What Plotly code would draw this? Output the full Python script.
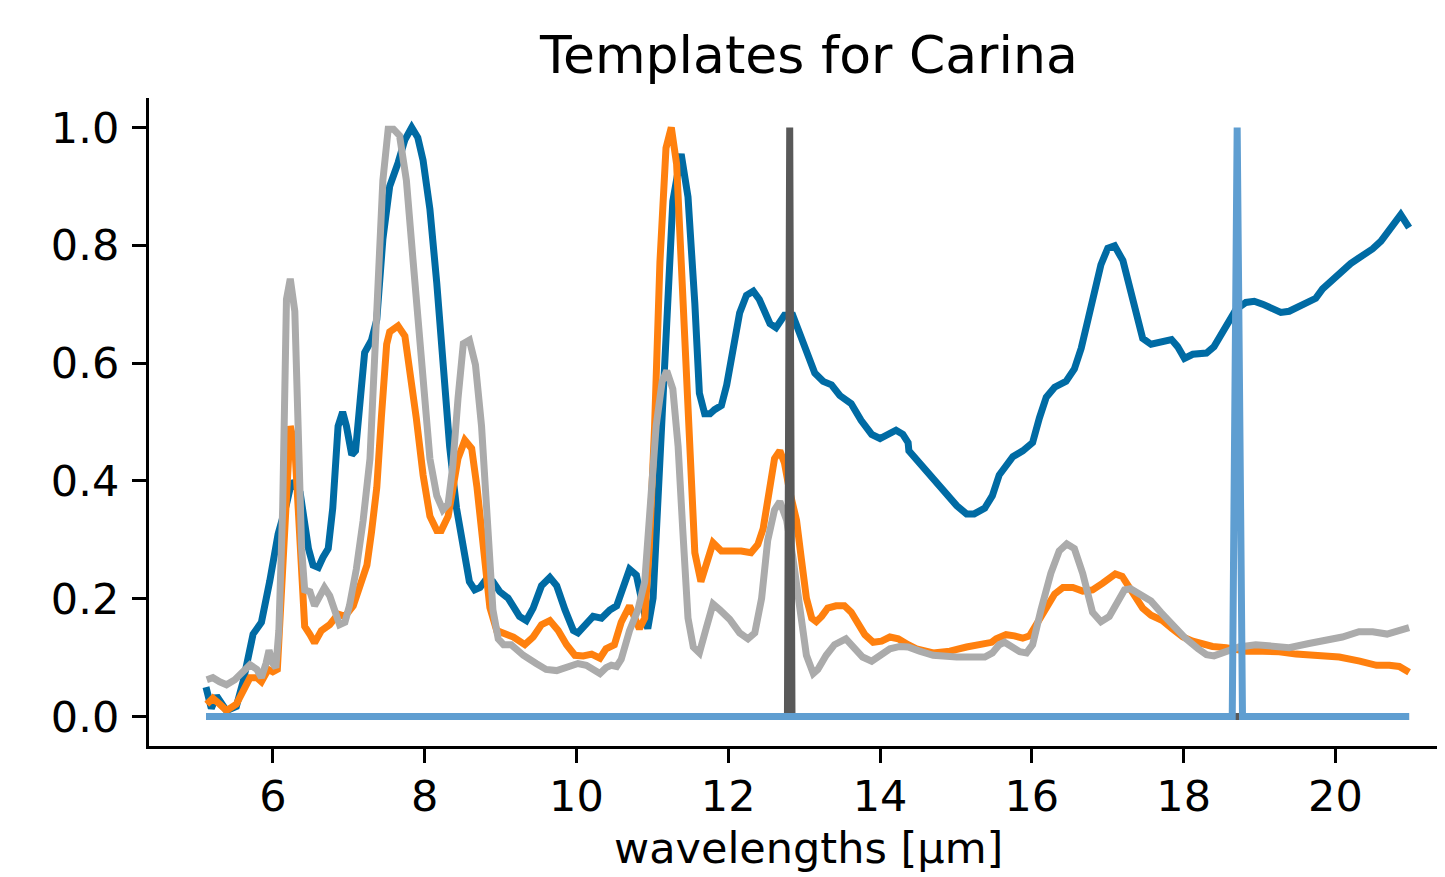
import plotly.graph_objects as go

# ---- data ----
blue_w = [5.12, 5.19, 5.26, 5.39, 5.52, 5.61, 5.74, 5.85, 5.96, 6.07, 6.18, 6.25, 6.36, 6.47, 6.53, 6.60,
          6.66, 6.73, 6.79, 6.86, 6.92, 6.97, 7.04, 7.09, 7.15, 7.21, 7.30, 7.37, 7.45, 7.54, 7.65, 7.74,
          7.83, 7.91, 7.98, 8.07, 8.16, 8.24, 8.33, 8.42, 8.51, 8.59, 8.66, 8.73, 8.81, 8.90, 8.99, 9.10,
          9.25, 9.34, 9.43, 9.54, 9.65, 9.74, 9.85, 9.96, 10.02, 10.11, 10.22, 10.33, 10.44, 10.53, 10.59,
          10.70, 10.79, 10.86, 10.94, 11.01, 11.10, 11.19, 11.27, 11.38, 11.47, 11.56, 11.62, 11.69, 11.76,
          11.82, 11.91, 11.98, 12.06, 12.15, 12.24, 12.33, 12.41, 12.55, 12.63, 12.74, 12.85, 12.99, 13.14,
          13.25, 13.36, 13.47, 13.62, 13.75, 13.89, 14.00, 14.10, 14.21, 14.30, 14.37, 14.38, 14.70, 15.01,
          15.14, 15.24, 15.38, 15.48, 15.57, 15.64, 15.75, 15.88, 16.01, 16.10, 16.19, 16.30, 16.45, 16.56,
          16.65, 16.74, 16.83, 16.91, 17.00, 17.09, 17.20, 17.29, 17.37, 17.46, 17.57, 17.68, 17.84, 17.92,
          18.01, 18.12, 18.30, 18.40, 18.56, 18.69, 18.82, 18.93, 19.04, 19.17, 19.28, 19.39, 19.50, 19.61,
          19.74, 19.83, 20.01, 20.20, 20.36, 20.49, 20.60, 20.73, 20.86, 20.97]
blue_v = [0.05, 0.014, 0.035, 0.01, 0.017, 0.06, 0.14, 0.16, 0.23, 0.31, 0.36, 0.40, 0.38, 0.285, 0.257, 0.253,
          0.27, 0.285, 0.354, 0.493, 0.517, 0.493, 0.444, 0.451, 0.535, 0.618, 0.639, 0.674, 0.81, 0.90, 0.94, 0.979,
          1.0, 0.983, 0.944, 0.861, 0.736, 0.597, 0.458, 0.354, 0.278, 0.229, 0.215, 0.219, 0.233, 0.229, 0.212, 0.201,
          0.17, 0.163, 0.184, 0.222, 0.236, 0.222, 0.181, 0.146, 0.142, 0.156, 0.17, 0.167, 0.181, 0.188, 0.208,
          0.25, 0.24, 0.194, 0.149, 0.201, 0.424, 0.701, 0.875, 0.955, 0.882, 0.701, 0.549, 0.514, 0.514,
          0.521, 0.528, 0.563, 0.618, 0.685, 0.715, 0.722, 0.708, 0.667, 0.66, 0.681, 0.681, 0.632, 0.583,
          0.569, 0.563, 0.545, 0.531, 0.503, 0.479, 0.472, 0.479, 0.486, 0.479, 0.465, 0.451, 0.403, 0.358,
          0.344, 0.344, 0.354, 0.375, 0.41, 0.424, 0.441, 0.451, 0.465, 0.507, 0.542, 0.559, 0.569, 0.59,
          0.625, 0.674, 0.722, 0.767, 0.795, 0.799, 0.774, 0.729, 0.681, 0.642, 0.632, 0.635, 0.64, 0.628,
          0.608, 0.615, 0.617, 0.628, 0.663, 0.691, 0.703, 0.705, 0.70, 0.691, 0.686, 0.688, 0.695, 0.705,
          0.71, 0.726, 0.747, 0.769, 0.783, 0.794, 0.807, 0.830, 0.852, 0.830]

orange_w = [5.13, 5.21, 5.30, 5.39, 5.52, 5.61, 5.70, 5.79, 5.85, 5.94, 6.00, 6.06, 6.11, 6.18, 6.23, 6.29,
            6.33, 6.38, 6.42, 6.49, 6.55, 6.64, 6.75, 6.86, 6.95, 7.06, 7.15, 7.24, 7.30, 7.37, 7.43, 7.50,
            7.54, 7.65, 7.74, 7.80, 7.89, 7.98, 8.07, 8.16, 8.22, 8.31, 8.37, 8.44, 8.53, 8.62, 8.69, 8.77,
            8.86, 8.95, 9.06, 9.17, 9.32, 9.43, 9.54, 9.65, 9.76, 9.87, 9.98, 10.09, 10.20, 10.31, 10.39,
            10.50, 10.59, 10.70, 10.77, 10.83, 10.90, 10.96, 11.03, 11.10, 11.18, 11.25, 11.32, 11.40, 11.49,
            11.56, 11.64, 11.73, 11.80, 11.84, 11.91, 12.02, 12.17, 12.30, 12.39, 12.46, 12.55, 12.61, 12.68,
            12.74, 12.81, 12.90, 12.96, 13.03, 13.10, 13.16, 13.23, 13.31, 13.42, 13.53, 13.62, 13.71, 13.80,
            13.91, 14.02, 14.13, 14.24, 14.37, 14.48, 14.70, 14.92, 15.14, 15.36, 15.47, 15.53, 15.66, 15.77,
            15.88, 15.97, 16.08, 16.19, 16.30, 16.41, 16.54, 16.67, 16.80, 16.93, 17.04, 17.10, 17.19, 17.30,
            17.46, 17.57, 17.72, 17.85, 17.99, 18.12, 18.25, 18.38, 18.56, 18.69, 18.82, 19.04, 19.26, 19.48,
            19.74, 20.05, 20.32, 20.54, 20.71, 20.84, 20.97]
orange_v = [0.021, 0.031, 0.021, 0.010, 0.021, 0.045, 0.066, 0.066, 0.059, 0.080, 0.076, 0.080, 0.215, 0.389, 0.493, 0.458,
            0.354, 0.215, 0.153, 0.139, 0.125, 0.146, 0.156, 0.174, 0.17, 0.188, 0.222, 0.257, 0.313, 0.389, 0.507, 0.632,
            0.653, 0.663, 0.646, 0.597, 0.507, 0.41, 0.34, 0.316, 0.316, 0.34, 0.389, 0.438, 0.469, 0.455, 0.389, 0.30,
            0.185, 0.146, 0.142, 0.135, 0.122, 0.135, 0.156, 0.163, 0.146, 0.122, 0.104, 0.103, 0.106, 0.099, 0.115,
            0.122, 0.16, 0.188, 0.167, 0.149, 0.167, 0.285, 0.493, 0.771, 0.965, 1.0, 0.938, 0.736, 0.493,
            0.278, 0.229, 0.271, 0.295, 0.290, 0.281, 0.281, 0.281, 0.278, 0.292, 0.319, 0.382, 0.438, 0.451,
            0.431, 0.382, 0.333, 0.271, 0.201, 0.167, 0.161, 0.17, 0.184, 0.188, 0.188, 0.177, 0.156, 0.139,
            0.126, 0.128, 0.135, 0.132, 0.122, 0.115, 0.108, 0.111, 0.118, 0.122, 0.126, 0.132, 0.139, 0.137,
            0.133, 0.137, 0.16, 0.188, 0.208, 0.219, 0.219, 0.213, 0.215, 0.226, 0.238, 0.242, 0.238, 0.215,
            0.184, 0.172, 0.163, 0.149, 0.135, 0.128, 0.123, 0.119, 0.117, 0.115, 0.111, 0.111, 0.11, 0.106,
            0.104, 0.101, 0.094, 0.087, 0.087, 0.085, 0.075]

gray_w = [5.13, 5.21, 5.30, 5.39, 5.50, 5.59, 5.70, 5.79, 5.85, 5.91, 5.95, 6.00, 6.04, 6.08, 6.13, 6.18,
          6.23, 6.29, 6.33, 6.38, 6.42, 6.49, 6.55, 6.62, 6.68, 6.75, 6.82, 6.88, 6.95, 7.01, 7.10, 7.19,
          7.28, 7.34, 7.40, 7.45, 7.52, 7.59, 7.67, 7.76, 7.85, 7.94, 8.00, 8.07, 8.16, 8.24, 8.31, 8.37,
          8.44, 8.51, 8.59, 8.67, 8.75, 8.84, 8.90, 8.97, 9.04, 9.14, 9.30, 9.47, 9.60, 9.74, 9.87, 10.02,
          10.13, 10.31, 10.39, 10.46, 10.53, 10.59, 10.70, 10.81, 10.90, 10.96, 11.05, 11.13, 11.19, 11.27,
          11.34, 11.40, 11.47, 11.54, 11.62, 11.71, 11.80, 11.89, 12.02, 12.15, 12.26, 12.35, 12.44, 12.52,
          12.61, 12.68, 12.77, 12.85, 12.94, 13.03, 13.12, 13.18, 13.29, 13.40, 13.55, 13.66, 13.77, 13.89,
          14.00, 14.13, 14.26, 14.37, 14.52, 14.70, 15.01, 15.27, 15.38, 15.48, 15.57, 15.64, 15.75, 15.84,
          15.93, 16.01, 16.12, 16.25, 16.36, 16.46, 16.56, 16.67, 16.80, 16.91, 17.02, 17.13, 17.22, 17.30,
          17.41, 17.57, 17.70, 17.85, 18.03, 18.19, 18.30, 18.40, 18.56, 18.73, 18.95, 19.17, 19.39, 19.65,
          19.87, 20.09, 20.31, 20.49, 20.68, 20.84, 20.97]
gray_v = [0.0625, 0.066, 0.059, 0.054, 0.0625, 0.076, 0.088, 0.080, 0.066, 0.090, 0.1125, 0.09, 0.083, 0.146, 0.354, 0.708,
          0.743, 0.688, 0.493, 0.285, 0.215, 0.212, 0.188, 0.208, 0.219, 0.205, 0.174, 0.156, 0.16, 0.188, 0.25, 0.333,
          0.4375, 0.597, 0.757, 0.91, 0.997, 0.997, 0.986, 0.91, 0.771, 0.632, 0.528, 0.4375, 0.375, 0.351, 0.361, 0.424,
          0.54, 0.633, 0.639, 0.597, 0.493, 0.319, 0.181, 0.132, 0.122, 0.122, 0.104, 0.09, 0.08, 0.078, 0.083, 0.09,
          0.087, 0.073, 0.083, 0.087, 0.085, 0.097, 0.146, 0.181, 0.229, 0.34, 0.493, 0.569, 0.587, 0.556,
          0.458, 0.319, 0.167, 0.118, 0.108, 0.15, 0.191, 0.181, 0.165, 0.142, 0.132, 0.142, 0.201, 0.299,
          0.351, 0.365, 0.333, 0.271, 0.181, 0.104, 0.073, 0.08, 0.104, 0.122, 0.132, 0.118, 0.101, 0.094,
          0.104, 0.115, 0.119, 0.118, 0.111, 0.104, 0.101, 0.102, 0.101, 0.108, 0.122, 0.126, 0.119, 0.11,
          0.108, 0.122, 0.181, 0.243, 0.281, 0.293, 0.285, 0.243, 0.177, 0.161, 0.17, 0.198, 0.215, 0.217,
          0.207, 0.196, 0.177, 0.156, 0.132, 0.115, 0.105, 0.103, 0.111, 0.118, 0.122, 0.119, 0.117, 0.124,
          0.128, 0.135, 0.144, 0.144, 0.14, 0.146, 0.151]

darkgray_w = [5.12, 12.78, 12.81, 12.84, 20.97]
darkgray_v = [0.0, 0.0, 1.0, 0.0, 0.0]

lightblue_w = [5.12, 18.64, 18.705, 18.775, 20.97]
lightblue_v = [0.0, 0.0, 1.0, 0.0, 0.0]

x_ticks = [6, 8, 10, 12, 14, 16, 18, 20]
y_ticks = [0.0, 0.2, 0.4, 0.6, 0.8, 1.0]
y_ticklabels = ["0.0", "0.2", "0.4", "0.6", "0.8", "1.0"]

title_text = "Templates for Carina"
xlabel_text = "wavelengths [µm]"

series = [
    (blue_w, blue_v, "#006BA4"),
    (orange_w, orange_v, "#FF800E"),
    (gray_w, gray_v, "#ABABAB"),
    (darkgray_w, darkgray_v, "#595959"),
    (lightblue_w, lightblue_v, "#5F9ED1"),
]

FONT = "DejaVu Sans"
fig = go.Figure()
for w, v, c in series:
    fig.add_trace(go.Scatter(x=w, y=v, mode="lines",
                             line=dict(color=c, width=7), showlegend=False,
                             hoverinfo="skip"))

# page body has an 8px default margin; compensate so the plot lands where the reference has it
OFF = 8
W, H = 1445 - OFF, 877 - OFF
L, T = 149 - OFF, 98 - OFF
B = H - (746 - OFF)
R = 0
ph = H - T - B

fig.update_layout(
    width=W, height=H,
    margin=dict(l=L, r=R, t=T, b=B, pad=0),
    paper_bgcolor="white", plot_bgcolor="white",
    font=dict(family=FONT, size=43, color="black"),
    showlegend=False,
)
fig.update_xaxes(
    range=[4.369, 21.443], showgrid=False, zeroline=False,
    showline=True, linecolor="black", linewidth=3.3,
    ticks="outside", ticklen=14, tickwidth=3.3, tickcolor="black",
    tickvals=x_ticks, ticktext=[str(t) for t in x_ticks],
    tickfont=dict(family=FONT, size=43, color="black"),
    ticklabelstandoff=-4,
)
fig.update_yaxes(
    range=[-0.05, 1.05], showgrid=False, zeroline=False,
    showline=True, linecolor="black", linewidth=3.3,
    ticks="outside", ticklen=14, tickwidth=3.3, tickcolor="black",
    tickvals=y_ticks, ticktext=y_ticklabels,
    tickfont=dict(family=FONT, size=43, color="black"),
    ticklabelstandoff=4,
)

def ypaper(py):
    # py in page pixels
    return (H - B - (py - OFF)) / ph

def xpaper(px):
    return (px - OFF - L) / (W - L - R)

fig.add_annotation(text=title_text, xref="paper", yref="paper",
                   x=xpaper(808), y=ypaper(55), xanchor="center", yanchor="middle",
                   showarrow=False, font=dict(family=FONT, size=52, color="black"))
fig.add_annotation(text=xlabel_text, xref="paper", yref="paper",
                   x=xpaper(808), y=ypaper(848), xanchor="center", yanchor="middle",
                   showarrow=False, font=dict(family=FONT, size=43, color="black"))

fig.write_html("out.html")
